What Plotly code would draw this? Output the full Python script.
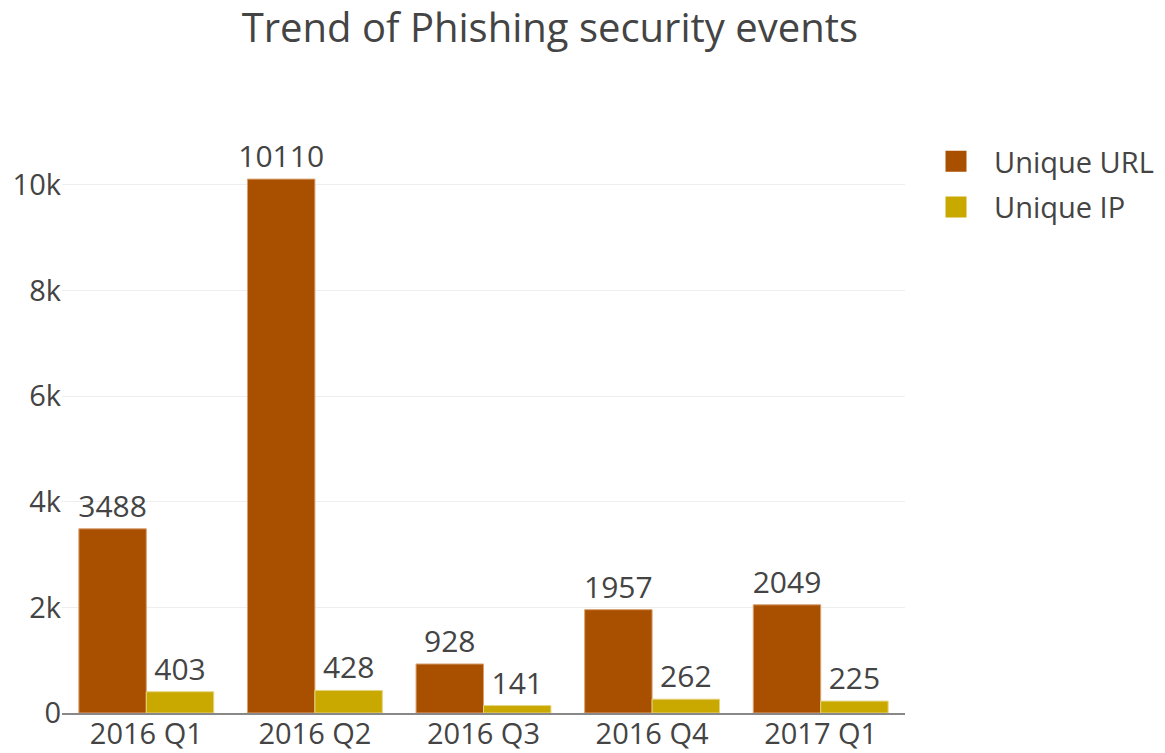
import plotly.graph_objects as go

quarters = ["2016 Q1", "2016 Q2", "2016 Q3", "2016 Q4", "2017 Q1"]
unique_url = [3488, 10110, 928, 1957, 2049]
unique_ip = [403, 428, 141, 262, 225]
series_names = ["Unique URL", "Unique IP"]
colors = ["#A95000", "#C9A800"]
edge_colors = ["#D9A070", "#E5D480"]

font_family = "Open Sans"
fig = go.Figure()
for name, vals, col, edge in zip(series_names, [unique_url, unique_ip], colors, edge_colors):
    fig.add_trace(go.Bar(
        name=name, x=quarters, y=vals,
        text=vals, textposition="outside", constraintext="none",
        marker=dict(color=col, line=dict(color=edge, width=1)),
        textfont=dict(size=30, color="#444", family=font_family),
        cliponaxis=False, showlegend=False, legendgroup=name,
    ))
# legend entries with larger square swatches
for name, col, edge in zip(series_names, colors, edge_colors):
    fig.add_trace(go.Scatter(
        name=name, x=[None], y=[None], mode="markers",
        marker=dict(symbol="square", size=16, color=col, line=dict(color=col, width=5)),
        showlegend=True, legendgroup=name,
    ))

fig.update_layout(
    width=1165, height=753,
    barmode="group", bargap=0.2, bargroupgap=0,
    font=dict(family=font_family, size=29, color="#444"),
    title=dict(text="Trend of Phishing security events", x=0.472, xanchor="center",
               y=0.963, yref="container", yanchor="middle",
               font=dict(size=40, color="#444", family=font_family)),
    margin=dict(l=62, r=260, t=130, b=40, pad=0),
    paper_bgcolor="white", plot_bgcolor="white",
    legend=dict(x=918 / 1165, y=1 - 136 / 753, xref="container", yref="container",
                xanchor="left", yanchor="top", itemwidth=66,
                font=dict(size=29, color="#444"), tracegroupgap=5),
    xaxis=dict(showline=True, linecolor="#888", linewidth=2, automargin=False,
               tickfont=dict(size=29), showgrid=False, ticks="", ticklabelstandoff=-6),
    yaxis=dict(range=[0, 11040], dtick=2000, showgrid=True, gridcolor="#eee",
               gridwidth=1, zeroline=False, automargin=False, tickfont=dict(size=29),
               ticks="", ticklabelstandoff=0),
)
fig.write_html("out.html")
